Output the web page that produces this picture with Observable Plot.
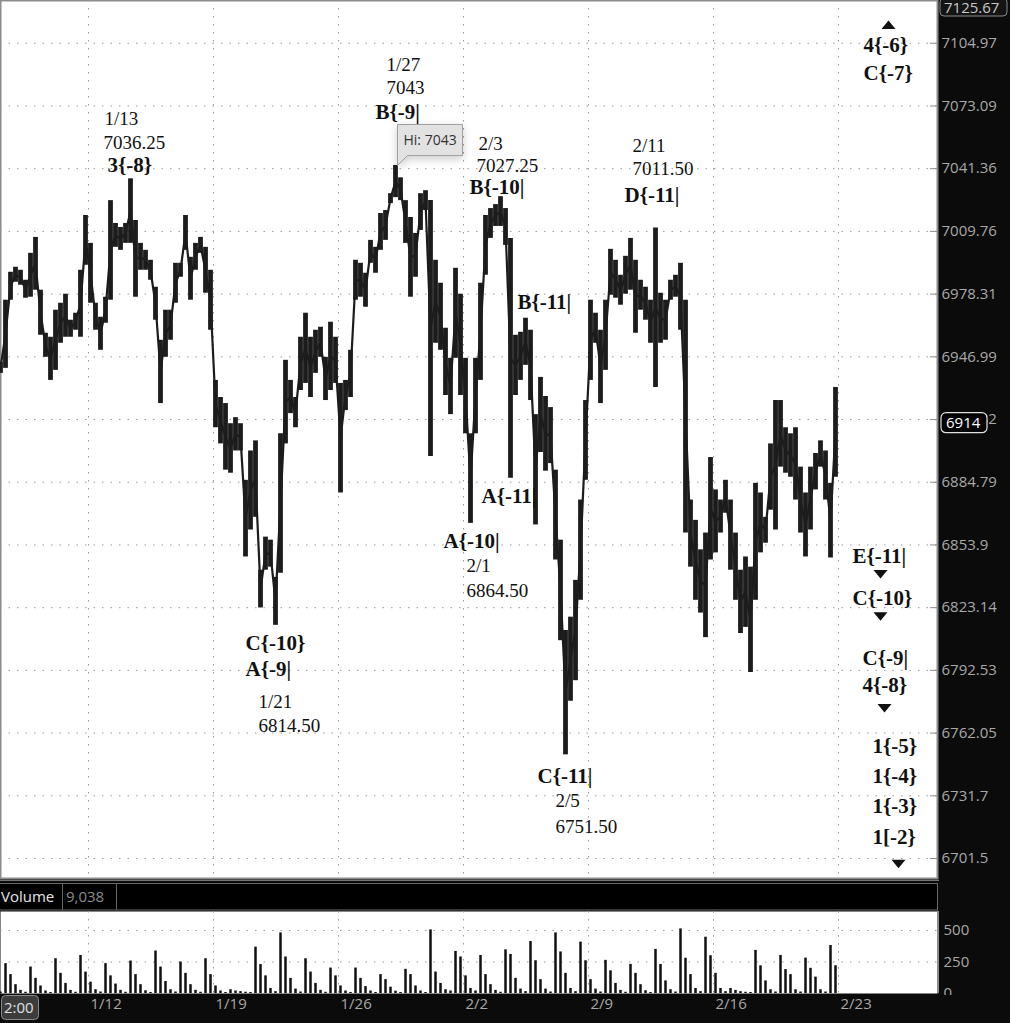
<!DOCTYPE html>
<html><head><meta charset="utf-8">
<script src="https://cdn.jsdelivr.net/npm/d3@7"></script>
<script src="https://cdn.jsdelivr.net/npm/@observablehq/plot@0.6"></script>
<style>
html,body{margin:0;padding:0;background:#0b0b0b;}
#chart{width:1010px;height:1023px;position:relative;overflow:hidden;background:#0b0b0b;}
#chart svg{display:block;}
</style></head><body><div id="chart"></div>
<script>
// ---- data ----
const barStartDay = -3.52;   // first bar, in trading days from Mon 1/12
const barStepDay = 0.2;      // bar spacing in trading days
const barHigh = [
6944.25,6975.25,6989.25,6991.75,6990.25,6985.25,6998.75,7006.75,6980.25,6958.75,
6956.75,6970.25,6973.75,6978.25,6965.25,6968.75,6990.25,7017.75,7003.75,6973.75,
6966.75,6976.75,7025.25,7013.75,7011.75,7013.75,7036.25,7015.25,7003.75,7000.25,
6995.25,6981.75,6955.25,6970.25,6970.25,6993.75,6993.75,7017.75,6996.75,7003.75,
7006.75,7001.75,6990.25,6935.25,6926.75,6923.75,6913.75,6916.75,6913.75,6885.75,
6900.25,6905.25,6841.5,6857.75,6856.25,6838.0,6908.75,6945.25,6935.25,6926.75,
6956.75,6968.75,6956.75,6960.25,6961.75,6946.75,6964.25,6956.75,6933.75,6935.25,
6950.25,6995.25,6993.75,6988.75,7005.25,7001.75,7018.75,7020.25,7028.75,7043.0,
7036.75,7025.25,7016.75,7008.75,7028.75,7030.25,7025.25,6995.25,6983.75,6961.25,
6946.25,6991.25,6978.25,6946.25,6908.75,6946.25,6983.75,7017.75,7021.25,7023.25,
7027.25,7021.25,7006.25,6957.75,6959.25,6966.25,6960.25,6918.25,6936.75,6927.25,
6921.75,6890.75,6856.25,6812.0,6818.5,6836.5,6876.0,6925.25,6975.25,6968.75,
6960.25,6975.25,7000.75,6995.25,6987.75,6997.25,7006.25,6995.25,6985.25,6981.75,
6975.25,7011.5,6978.75,6975.25,6985.25,6987.75,6993.75,6975.25,6876.0,6866.0,
6851.5,6859.75,6897.0,6881.0,6876.0,6885.75,6876.0,6859.75,6841.5,6848.0,
6843.0,6884.25,6879.5,6867.5,6903.75,6925.25,6925.25,6911.75,6908.75,6911.75,
6892.25,6879.5,6892.25,6899.0,6905.25,6900.25,6884.25,6931.75];
const barLow = [
6938.75,6941.25,6975.25,6984.25,6982.75,6976.25,6976.75,6980.25,6957.75,6946.75,
6935.25,6940.25,6953.75,6956.75,6956.75,6960.25,6956.75,6992.75,6973.75,6960.25,
6950.25,6963.75,6975.25,7001.75,7000.25,7003.75,7003.75,6976.75,6990.25,6990.25,
6985.25,6965.25,6923.75,6946.75,6955.25,6973.75,6986.75,7000.25,6975.25,6990.25,
6998.75,6978.75,6960.25,6911.75,6903.75,6890.75,6889.25,6900.25,6900.25,6848.0,
6861.25,6867.5,6823.0,6841.5,6843.0,6814.5,6840.0,6903.75,6918.75,6911.75,
6930.25,6933.75,6926.75,6938.75,6946.75,6925.25,6930.25,6933.75,6879.5,6920.25,
6926.75,6975.25,6976.75,6971.75,6993.75,6988.75,7000.25,7005.25,7023.75,7026.75,
7025.25,7003.75,6976.75,6986.75,7010.25,7020.25,6897.5,6953.75,6950.25,6927.75,
6918.25,6946.25,6927.75,6908.75,6864.5,6908.75,6935.25,6987.75,7006.25,7012.25,
7012.25,7002.75,6886.75,6927.75,6935.25,6942.75,6925.25,6863.75,6899.5,6890.25,
6894.0,6846.5,6807.0,6751.5,6777.5,6787.5,6826.75,6885.75,6935.25,6953.75,
6923.75,6940.25,6977.75,6976.25,6972.75,6978.25,6980.25,6958.75,6970.25,6965.25,
6953.75,6931.75,6953.75,6955.25,6975.25,6976.75,6960.25,6859.75,6843.0,6826.75,
6820.5,6808.5,6846.5,6850.0,6859.75,6869.5,6841.5,6826.75,6810.5,6813.5,
6791.5,6826.75,6850.0,6854.75,6871.0,6861.25,6892.25,6889.25,6887.25,6876.0,
6859.75,6848.0,6861.25,6881.0,6892.25,6876.0,6847.5,6887.25];
const volume = [12,
237,150,70,25,10, 210,120,60,20,8, 276,160,80,25,10, 302,170,90,30,12, 237,140,75,25,10,
258,150,70,22,8, 337,210,95,30,12, 250,160,70,25,10, 276,150,60,20,8, 30,20,15,10,8,
368,230,140,40,15, 481,290,120,35,12, 276,170,80,25,10, 202,140,60,20,8, 202,120,55,20,8,
150,110,50,18,8, 192,150,60,20,8, 505,170,80,30,20, 334,290,140,40,20, 302,150,70,25,10,
347,310,120,35,15, 413,260,110,35,12, 481,330,160,40,15, 408,260,110,35,12, 263,180,80,25,10,
231,160,70,22,8, 350,230,100,30,12, 513,280,150,40,15, 447,300,160,40,15, 40,25,15,10,8,
342,220,100,30,12, 302,190,150,30,12, 281,200,130,30,12, 381,220];
const weekLabels = ["1/12","1/19","1/26","2/2","2/9","2/16","2/23"];
const weekDays = [0,5,10,15,20,25,30];
const priceTicks = [7104.97,7073.09,7041.36,7009.76,6978.31,6946.99,6915.82,6884.79,6853.9,6823.14,6792.53,6762.05,6731.7,6701.5];
const volumeTicks = [0,250,500];
const topPrice = 7125.67;
const lastPrice = 6914;
const hiValue = 7043, hiDay = 12.36;
const totalVolume = "9,038";

const noteText  = ["1/13","7036.25","1/27","7043","2/3","7027.25","2/11","7011.50","2/1","6864.50","1/21","6814.50","2/5","6751.50"];
const noteDay   = [0.64,0.6,11.92,11.92,15.6,15.52,21.76,21.76,15.12,15.12,6.8,6.8,18.68,18.68];
const notePrice = [7066.3,7054.3,7093.8,7082.3,7053.8,7042.8,7052.8,7041.3,6843.5,6831.2,6777.2,6765.4,6729.0,6716.7];

const waveText  = ["3{-8}","B{-9|","B{-10|","D{-11|","B{-11|","A{-11|","A{-10|","C{-10}","A{-9|","C{-11|","4{-6}","C{-7}","E{-11|","C{-10}","C{-9|","4{-8}","1{-5}","1{-4}","1{-3}","1[-2}"];
const waveDay   = [0.76,11.48,15.24,21.44,17.16,15.72,14.2,6.28,6.28,17.96,31.0,31.0,30.56,30.56,30.96,30.96,31.36,31.36,31.36,31.36];
const wavePrice = [7043.3,7069.8,7031.8,7027.8,6974.3,6877.9,6855.8,6805.7,6792.9,6741.3,7103.8,7089.8,6848.4,6827.8,6798.3,6785.5,6755.5,6741.3,6726.5,6711.8];

const markerDay   = [32.0,31.68,31.68,31.84,32.4];
const markerPrice = [7114.3,6839.6,6818.9,6774.2,6699.0];
const markerDir   = ["up","down","down","down","down"];

// ---- build ----
const xDomain = [-3.52, 33.96];
const bars = barHigh.map((h,i)=>({day: barStartDay + i*barStepDay, high: h, low: barLow[i], vol: volume[i]}));
const notes = noteText.map((t,i)=>({t, day: noteDay[i], price: notePrice[i]}));
const waves = waveText.map((t,i)=>({t, day: waveDay[i], price: wavePrice[i]}));
const markers = markerDay.map((d,i)=>({day:d, price: markerPrice[i], dir: markerDir[i]}));
const triUp = {draw(ctx){ctx.moveTo(0,-4.5);ctx.lineTo(7,4);ctx.lineTo(-7,4);ctx.closePath();}};
const triDown = {draw(ctx){ctx.moveTo(0,4.5);ctx.lineTo(7,-4);ctx.lineTo(-7,-4);ctx.closePath();}};
const axisFont = "'Open Sans', 'Noto Sans', sans-serif";
const serif = "'Liberation Serif', 'Times New Roman', serif";
const grid = "#9a9a9a";

const price = Plot.plot({
  width: 1010, height: 880,
  marginLeft: 0, marginRight: 73, marginTop: 0, marginBottom: 2,
  style: {background: "#0b0b0b", color: "#333", overflow: "visible"},
  x: {type: "linear", domain: xDomain, axis: null},
  y: {type: "log", domain: [6691.9, 7126.8], axis: null},
  marks: [
    Plot.frame({fill: "white", stroke: "#8c8c8c", strokeWidth: 2}),
    Plot.ruleY(priceTicks, {stroke: grid, strokeDasharray: "1.5,7", strokeWidth: 1}),
    Plot.ruleX(weekDays, {stroke: grid, strokeDasharray: "1.5,6.5", strokeWidth: 1}),
    Plot.ruleY(priceTicks, {x1: xDomain[1] - 0.28, x2: xDomain[1], stroke: "#8c8c8c"}),
    Plot.line(bars, {x: "day", y: d => Math.sqrt(d.high * d.low), stroke: "#1c1c1c", strokeWidth: 2.2}),
    Plot.ruleX(bars, {x: "day", y1: "low", y2: "high", stroke: "#1c1c1c", strokeWidth: 4.8}),
    Plot.axisY(priceTicks, {anchor: "right", tickSize: 0, tickPadding: 4, tickFormat: d => `${d}`, label: null,
      fill: "#a8a8a8", fontSize: 15, fontFamily: axisFont}),
    Plot.text(notes, {x: "day", y: "price", text: "t", textAnchor: "start", fontFamily: serif, fontSize: 19, fill: "#111"}),
    Plot.text(waves, {x: "day", y: "price", text: "t", textAnchor: "start", fontFamily: serif, fontSize: 21, fontWeight: "bold", fill: "#111"}),
    Plot.dot(markers.filter(d=>d.dir==="up"), {x: "day", y: "price", symbol: triUp, fill: "#111", stroke: null}),
    Plot.dot(markers.filter(d=>d.dir==="down"), {x: "day", y: "price", symbol: triDown, fill: "#111", stroke: null}),
    Plot.tip([{day: hiDay, price: hiValue}], {x: "day", y: "price", title: d => `Hi: ${d.price}`, anchor: "bottom-left",
      fill: "#e2e2e2", stroke: "#a0a0a0", fontSize: 14, fontFamily: axisFont, pointerSize: 10, textPadding: 6})
  ]
});

const vol = Plot.plot({
  width: 1010, height: 143,
  marginLeft: 0, marginRight: 73, marginTop: 31, marginBottom: 30,
  style: {background: "#0b0b0b", color: "#aaa", overflow: "visible"},
  x: {type: "linear", domain: xDomain, axis: null},
  y: {domain: [0, 651], axis: null},
  marks: [
    Plot.frame({fill: "white", stroke: null}),
    Plot.ruleY([250, 500], {stroke: grid, strokeDasharray: "1.5,7"}),
    Plot.ruleX(weekDays, {stroke: grid, strokeDasharray: "1.5,6.5"}),
    Plot.ruleX(bars, {x: "day", y1: 0, y2: "vol", stroke: "#111", strokeWidth: 2.5}),
    Plot.axisY(volumeTicks, {anchor: "right", tickSize: 0, tickPadding: 6, label: null, fill: "#a8a8a8", fontSize: 15, fontFamily: axisFont}),
    Plot.axisX(weekDays, {anchor: "bottom", tickSize: 0, tickPadding: 5, textAnchor: "start", dx: 2, label: null,
      tickFormat: d => weekLabels[weekDays.indexOf(d)], fill: "#a8a8a8", fontSize: 15, fontFamily: axisFont})
  ]
});

const root = document.getElementById("chart");
root.appendChild(price);
root.appendChild(vol);

// price-axis markers (top value and last price) placed with the plot's own scale
const ps = d3.select(price);
const ys = price.scale("y");
const xr = price.scale("x").range[1];
const gTop = ps.append("g").attr("text-anchor", "start");
gTop.append("rect").attr("x", xr + 3).attr("y", -2).attr("width", 67).attr("height", 18).attr("rx", 4)
  .attr("fill", "#141414").attr("stroke", "#8a8a8a");
gTop.append("text").attr("x", xr + 7).attr("y", 12.5).attr("fill", "#c8c8c8").attr("font-size", 15)
  .attr("font-family", axisFont).text(topPrice.toFixed(2));
const yl = ys.apply(lastPrice);
const gLast = ps.append("g").attr("text-anchor", "start");
gLast.append("rect").attr("x", xr + 4).attr("y", yl - 10).attr("width", 46).attr("height", 20).attr("rx", 5)
  .attr("fill", "#000").attr("stroke", "#e0e0e0").attr("stroke-width", 1.2);
gLast.append("text").attr("x", xr + 9).attr("y", yl + 5.5).attr("fill", "#fff").attr("font-size", 15)
  .attr("font-family", axisFont).text(`${lastPrice}`);

// volume header band and bottom-left time tag
const vs = d3.select(vol);
const hdr = vs.append("g").attr("text-anchor", "start");
hdr.append("line").attr("x1", 0).attr("x2", xr + 2).attr("y1", 0.5).attr("y2", 0.5).attr("stroke", "#777");
hdr.append("rect").attr("x", -1).attr("y", 3.5).attr("width", xr + 1.5).attr("height", 26.5).attr("fill", "#000").attr("stroke", "#666");
hdr.append("line").attr("x1", 62.5).attr("x2", 62.5).attr("y1", 3.5).attr("y2", 30).attr("stroke", "#666");
hdr.append("line").attr("x1", 116.5).attr("x2", 116.5).attr("y1", 3.5).attr("y2", 30).attr("stroke", "#666");
hdr.append("text").attr("x", 1).attr("y", 22).attr("fill", "#e6e6e6").attr("font-size", 15).attr("font-family", axisFont).text("Volume");
hdr.append("text").attr("x", 66).attr("y", 22).attr("fill", "#8a8a8a").attr("font-size", 15).attr("font-family", axisFont).text(totalVolume);
vs.append("rect").attr("x", xr).attr("y", 115).attr("width", 80).attr("height", 30).attr("fill", "#0b0b0b");
vs.append("line").attr("x1", xr + 1).attr("x2", xr + 1).attr("y1", 31).attr("y2", 113).attr("stroke", "#8c8c8c").attr("stroke-width", 2);
const tag = vs.append("g").attr("text-anchor", "start");
tag.append("rect").attr("x", 1.5).attr("y", 115.5).attr("width", 37).attr("height", 24).attr("rx", 4)
  .attr("fill", "#3c3c3c").attr("stroke", "#8a8a8a");
tag.append("text").attr("x", 4).attr("y", 133).attr("fill", "#e0e0e0").attr("font-size", 15).attr("font-family", axisFont).text("2:00");
</script>
</body></html>
